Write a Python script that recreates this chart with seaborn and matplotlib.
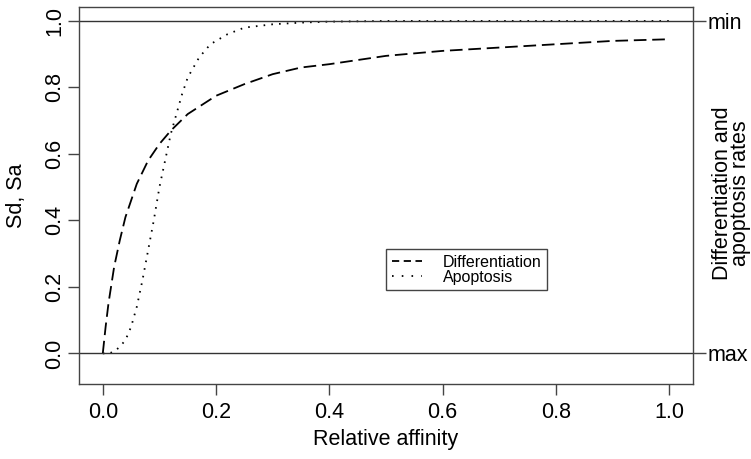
import matplotlib
matplotlib.use("Agg")
import matplotlib.pyplot as plt
import seaborn as sns
import pandas as pd
from matplotlib.lines import Line2D

# Data
diff_x = [0.0, 0.005, 0.01, 0.02, 0.03, 0.04, 0.05, 0.06, 0.08, 0.10, 0.12,
          0.15, 0.20, 0.25, 0.30, 0.35, 0.40, 0.50, 0.60, 0.70, 0.80, 0.90, 1.0]
diff_y = [0.0, 0.08, 0.15, 0.26, 0.34, 0.41, 0.46, 0.51, 0.58, 0.63, 0.67,
          0.72, 0.775, 0.81, 0.84, 0.86, 0.87, 0.895, 0.91, 0.92, 0.93, 0.94, 0.945]

apo_x = [0.0, 0.01, 0.02, 0.03, 0.04, 0.05, 0.06, 0.07, 0.08, 0.09, 0.10, 0.11,
         0.12, 0.13, 0.14, 0.15, 0.17, 0.19, 0.22, 0.25, 0.30, 0.35, 0.40, 0.50,
         0.60, 0.80, 1.0]
apo_y = [0.0, 0.0, 0.005, 0.02, 0.04, 0.08, 0.14, 0.22, 0.31, 0.40, 0.50, 0.58,
         0.66, 0.72, 0.78, 0.83, 0.89, 0.93, 0.96, 0.98, 0.99, 0.995, 0.998, 1.0,
         1.0, 1.0, 1.0]

x_ticks = [0.0, 0.2, 0.4, 0.6, 0.8, 1.0]
x_tick_labels = ["0.0", "0.2", "0.4", "0.6", "0.8", "1.0"]
y_ticks = [0.0, 0.2, 0.4, 0.6, 0.8, 1.0]
y_tick_labels = ["0.0", "0.2", "0.4", "0.6", "0.8", "1.0"]
right_ticks = [0.0, 1.0]
right_tick_labels = ["max", "min"]
series_names = ["Differentiation", "Apoptosis"]

sns.set_style("ticks")
plt.rcParams["font.family"] = ["Liberation Sans", "DejaVu Sans"]
plt.rcParams["text.color"] = "black"
plt.rcParams["axes.labelcolor"] = "black"
plt.rcParams["xtick.color"] = "black"
plt.rcParams["ytick.color"] = "black"

fig = plt.figure(figsize=(7.51, 4.59), dpi=100)
ax = fig.add_axes([79 / 751, 1 - 384 / 459, 614 / 751, 377 / 459])

dash_style = (0, (7.0, 3.2))
dot_style = (0, (0.9, 3.4))

df_d = pd.DataFrame({"x": diff_x, "y": diff_y})
df_a = pd.DataFrame({"x": apo_x, "y": apo_y})
sns.lineplot(data=df_d, x="x", y="y", ax=ax, color="black", linewidth=1.3,
             linestyle=dash_style, legend=False)
sns.lineplot(data=df_a, x="x", y="y", ax=ax, color="black", linewidth=1.3,
             linestyle=dot_style, legend=False)

ax.axhline(0, color="#333333", linewidth=1.0)
ax.axhline(1, color="#333333", linewidth=1.0)

ax.set_xlim(-0.042, 1.042)
ax.set_ylim(-0.092, 1.042)
ax.set_xticks(x_ticks)
ax.set_xticklabels(x_tick_labels)
ax.set_yticks(y_ticks)
ax.set_yticklabels(y_tick_labels, rotation=90, va="center")

for s in ax.spines.values():
    s.set_visible(True)
    s.set_color("#444444")
    s.set_linewidth(1.0)

ax.tick_params(axis="both", direction="out", length=8, width=1.0,
               color="#444444", labelsize=15.5, labelcolor="black")
ax.tick_params(axis="y", pad=2)
ax.tick_params(axis="x", pad=5)
ax.set_xlabel("Relative affinity", fontsize=15.5, labelpad=4)
ax.set_ylabel("Sd, Sa", fontsize=15.5, va="center", ha="center")
ax.yaxis.set_label_coords(-0.101, 0.5)

ax2 = ax.twinx()
ax2.set_ylim(ax.get_ylim())
ax2.set_yticks(right_ticks)
ax2.set_yticklabels(right_tick_labels)
ax2.tick_params(axis="y", direction="out", length=9, width=1.0,
                color="#444444", labelsize=15.5, labelcolor="black", pad=1.5)
for s in ax2.spines.values():
    s.set_visible(False)
ax2.set_ylabel("Differentiation and\napoptosis rates", fontsize=15.5,
               linespacing=0.85, rotation=90, va="center", ha="center")
ax2.yaxis.set_label_coords(1.063, 0.505)

handles = [Line2D([], [], color="black", linewidth=1.3, linestyle=(0, (4.0, 2.5))),
           Line2D([], [], color="black", linewidth=1.3, linestyle=(0, (0.9, 4.5)))]
leg = ax.legend(handles, series_names, loc="upper left",
                bbox_to_anchor=((386 - 79) / 614, (384 - 249) / 377),
                fontsize=11.5, frameon=True, fancybox=False, framealpha=1,
                edgecolor="#444444", handlelength=1.9, handletextpad=1.3,
                borderpad=0.35, labelspacing=0.0, borderaxespad=0)
leg.get_frame().set_linewidth(1.0)

fig.savefig("out.png", dpi=100)
